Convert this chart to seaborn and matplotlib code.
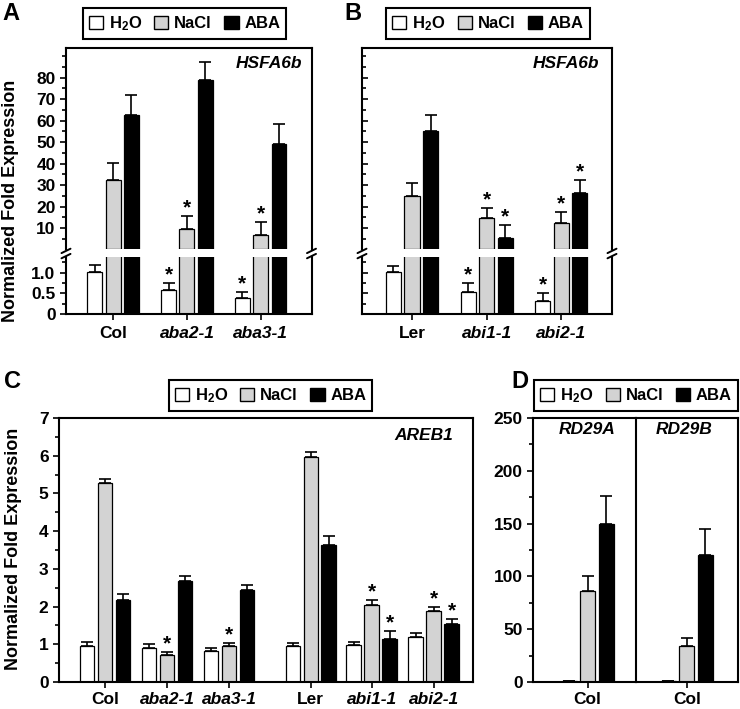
import numpy as np
import pandas as pd
import matplotlib
matplotlib.use("Agg")
import matplotlib.pyplot as plt
import seaborn as sns
from matplotlib.ticker import FixedLocator, FixedFormatter, MultipleLocator
from matplotlib.patches import Patch
from matplotlib.lines import Line2D

# ---------------- data ----------------
treatments = ["H2O", "NaCl", "ABA"]
legend_labels = ["H$_\\mathbf{2}$O", "NaCl", "ABA"]

# Panel A  (HSFA6b)
a_genotypes = ["Col", "aba2-1", "aba3-1"]
a_h2o = [1.02, 0.58, 0.38]
a_h2o_err = [0.17, 0.16, 0.16]
a_nacl = [32.4, 9.4, 6.7]
a_nacl_err = [7.7, 6.2, 6.2]
a_aba = [62.6, 78.9, 49.1]
a_aba_err = [9.3, 8.6, 9.3]
a_star_h2o = [False, True, True]
a_star_nacl = [False, True, True]
a_star_aba = [False, False, False]

# Panel B  (HSFA6b)
b_genotypes = ["Ler", "abi1-1", "abi2-1"]
b_h2o = [1.02, 0.54, 0.32]
b_h2o_err = [0.15, 0.20, 0.20]
b_nacl = [24.9, 14.8, 12.2]
b_nacl_err = [6.2, 4.4, 5.1]
b_aba = [55.1, 5.2, 26.1]
b_aba_err = [7.5, 6.2, 6.2]
b_star_h2o = [False, True, True]
b_star_nacl = [False, True, True]
b_star_aba = [False, True, True]

# Panel C  (AREB1)
c_genotypes = ["Col", "aba2-1", "aba3-1", "Ler", "abi1-1", "abi2-1"]
c_h2o = [0.95, 0.90, 0.81, 0.95, 0.97, 1.19]
c_h2o_err = [0.10, 0.10, 0.09, 0.08, 0.09, 0.11]
c_nacl = [5.28, 0.71, 0.95, 5.97, 2.03, 1.87]
c_nacl_err = [0.09, 0.08, 0.08, 0.12, 0.15, 0.12]
c_aba = [2.18, 2.69, 2.43, 3.64, 1.15, 1.54]
c_aba_err = [0.15, 0.13, 0.15, 0.22, 0.19, 0.13]
c_star_h2o = [False] * 6
c_star_nacl = [False, True, True, False, True, True]
c_star_aba = [False, False, False, False, True, True]

# Panel D  (RD29A / RD29B, Col)
d_genes = ["RD29A", "RD29B"]
d_h2o = [1.0, 1.0]
d_h2o_err = [0.3, 0.3]
d_nacl = [86.1, 34.2]
d_nacl_err = [14.2, 7.8]
d_aba = [149.4, 120.3]
d_aba_err = [26.9, 24.3]

# ---------------- style ----------------
sns.set_theme(style="ticks")
plt.rcParams["font.family"] = ["Liberation Sans", "DejaVu Sans"]
plt.rcParams["font.weight"] = "bold"
plt.rcParams["mathtext.fontset"] = "custom"
plt.rcParams["mathtext.rm"] = "Liberation Sans:bold"
plt.rcParams["mathtext.bf"] = "Liberation Sans:bold"
plt.rcParams["mathtext.it"] = "Liberation Sans:bold:italic"
for k in ["axes.edgecolor", "xtick.color", "ytick.color", "text.color", "axes.labelcolor"]:
    plt.rcParams[k] = "black"

palette = {"H2O": "white", "NaCl": "#d3d3d3", "ABA": "black"}
TICK_FS = 12.5
W, H = 740, 709
fig = plt.figure(figsize=(W / 100, H / 100), dpi=100)


def box(l, t, r, b):
    return [l / W, 1 - b / H, (r - l) / W, (b - t) / H]


def long_df(genotypes, h, he, n, ne, a, ae, sh, sn, sa):
    vals = {"H2O": (h, he, sh), "NaCl": (n, ne, sn), "ABA": (a, ae, sa)}
    rows = []
    for gi, g in enumerate(genotypes):
        for ti, t in enumerate(treatments):
            v, e, s = vals[t]
            rows.append(dict(genotype=g, treatment=t, value=v[gi], err=e[gi],
                             star=s[gi], gi=gi, ti=ti))
    return pd.DataFrame(rows)


def draw(ax, df, order, width, gap, positions=None, hide=(), annotate=None):
    d = df.copy()
    if positions is not None:
        d["x"] = [positions[i] for i in d["gi"]]
        sns.barplot(data=d, x="x", y="value", hue="treatment", hue_order=treatments,
                    palette=palette, edgecolor="black", linewidth=0.9, width=width,
                    gap=gap, errorbar=None, legend=False, ax=ax, native_scale=True,
                    saturation=1)
    else:
        sns.barplot(data=d, x="genotype", y="value", hue="treatment", order=order,
                    hue_order=treatments, palette=palette, edgecolor="black",
                    linewidth=0.9, width=width, gap=gap, errorbar=None, legend=False,
                    ax=ax, saturation=1)
    ax.patch.set_alpha(0)
    rects = sorted(ax.patches, key=lambda p: p.get_x())
    d = d.sort_values(["gi", "ti"])
    for p, (_, r) in zip(rects, d.iterrows()):
        if r.treatment in hide:
            p.set_visible(False)
            continue
        if annotate is not None and r.treatment not in annotate:
            continue
        cx = p.get_x() + p.get_width() / 2
        ax.errorbar(cx, r.value, yerr=[[0], [r.err]], fmt="none", ecolor="black",
                    elinewidth=1.2, capsize=4.2, capthick=1.2, zorder=5)
        if r.star:
            ax.annotate("*", (cx, r.value + r.err), xytext=(0, -1),
                        textcoords="offset points", ha="center", va="bottom",
                        fontsize=15, fontweight="bold", annotation_clip=False)


def style_ax(ax, left_dir="out"):
    for s in ax.spines.values():
        s.set_linewidth(1.5)
        s.set_color("black")
    ax.tick_params(axis="both", which="major", length=4.5, width=1.2,
                   labelsize=TICK_FS, pad=3, color="black")
    ax.tick_params(axis="both", which="minor", length=3, width=1.2, color="black")
    ax.tick_params(axis="y", which="both", direction=left_dir, right=False)
    ax.tick_params(axis="x", which="both", top=False)
    ax.set_xlabel("")
    ax.set_ylabel("")


def set_xlabels(ax, labels, pad, positions=None):
    ax.set_xticks(range(len(labels)) if positions is None else positions)
    ax.set_xticklabels(labels)
    for t, g in zip(ax.get_xticklabels(), labels):
        t.set_fontweight("bold")
        t.set_fontsize(TICK_FS)
        if g not in ("Col", "Ler"):
            t.set_fontstyle("italic")
    ax.tick_params(axis="x", which="major", pad=pad)
    ax.xaxis.set_minor_locator(FixedLocator([]))


# ---------------- panels A & B (broken y axis) ----------------
dfA = long_df(a_genotypes, a_h2o, a_h2o_err, a_nacl, a_nacl_err, a_aba, a_aba_err,
              a_star_h2o, a_star_nacl, a_star_aba)
dfB = long_df(b_genotypes, b_h2o, b_h2o_err, b_nacl, b_nacl_err, b_aba, b_aba_err,
              b_star_h2o, b_star_nacl, b_star_aba)

specs = [
    (dfA, a_genotypes, (66, 311.5), (-0.64, 2.69), "out", "HSFA6b", 0.961),
    (dfB, b_genotypes, (362, 612), (-0.67, 2.68), "in", "HSFA6b", 0.949),
]
for df, gens, (l, r), xl, ldir, gene, gx in specs:
    ax_up = fig.add_axes(box(l, 48, r, 249))
    ax_lo = fig.add_axes(box(l, 257, r, 314))
    draw(ax_up, df, gens, 0.745, 0.19, hide=("H2O",), annotate=("NaCl", "ABA"))
    draw(ax_lo, df, gens, 0.745, 0.19, annotate=("H2O",))
    for ax in (ax_up, ax_lo):
        style_ax(ax, ldir)
        ax.set_xlim(*xl)
    ax_up.set_ylim(0.22, 93.8)
    ax_lo.set_ylim(0, 1.38)
    ax_up.spines["bottom"].set_visible(False)
    ax_lo.spines["top"].set_visible(False)
    ax_up.tick_params(axis="x", which="both", bottom=False, labelbottom=False)
    ax_up.yaxis.set_major_locator(FixedLocator(list(range(10, 81, 10))))
    ax_up.yaxis.set_minor_locator(FixedLocator([5, 15, 25, 35, 45, 55, 65, 75, 85, 90]))
    ax_lo.yaxis.set_major_locator(FixedLocator([0, 0.5, 1.0]))
    ax_lo.yaxis.set_major_formatter(FixedFormatter(["0", "0.5", "1.0"]))
    ax_lo.yaxis.set_minor_locator(FixedLocator([0.25, 0.75, 1.25]))
    if ldir == "in":
        ax_up.tick_params(axis="y", labelleft=False)
        ax_lo.tick_params(axis="y", labelleft=False)
    set_xlabels(ax_lo, gens, 4.5)
    ax_up.text(gx, 0.925, gene, transform=ax_up.transAxes, ha="right", va="center",
               fontsize=12.5, fontweight="bold", fontstyle="italic")
    # break marks on both spines
    for xs in (l, r):
        for dy in (-2.6, 2.6):
            fig.add_artist(Line2D([(xs - 4.5) / W, (xs + 4.5) / W],
                                  [1 - (253.5 + dy + 2.2) / H, 1 - (253.5 + dy - 2.2) / H],
                                  color="black", lw=1.4))

# ---------------- panel C ----------------
dfC = long_df(c_genotypes, c_h2o, c_h2o_err, c_nacl, c_nacl_err, c_aba, c_aba_err,
              c_star_h2o, c_star_nacl, c_star_aba)
c_positions = [0, 1, 2, 3.32, 4.3, 5.3]
axC = fig.add_axes(box(59, 418, 473, 682))
draw(axC, dfC, c_genotypes, 0.885, 0.18, positions=c_positions)
style_ax(axC)
axC.set_xlim(-0.742, 5.935)
axC.set_ylim(0, 7)
axC.yaxis.set_major_locator(MultipleLocator(1))
axC.yaxis.set_minor_locator(MultipleLocator(0.5))
set_xlabels(axC, c_genotypes, 2.5, positions=c_positions)
axC.text(0.952, 0.932, "AREB1", transform=axC.transAxes, ha="right", va="center",
         fontsize=12.5, fontweight="bold", fontstyle="italic")

# ---------------- panel D ----------------
dfD = long_df(d_genes, d_h2o, d_h2o_err, d_nacl, d_nacl_err, d_aba, d_aba_err,
              [False] * 2, [False] * 2, [False] * 2)
d_boxes = [(533, 636, (-0.739, 0.653), 0.524), (636, 738, (-0.685, 0.693), 0.47)]
for i, (l, r, xl, tx) in enumerate(d_boxes):
    ax = fig.add_axes(box(l, 418, r, 682))
    sub = dfD[dfD.gi == i].copy()
    sub["gi"] = 0
    sub["genotype"] = "Col"
    draw(ax, sub, ["Col"], 0.75, 0.19)
    style_ax(ax)
    ax.set_xlim(*xl)
    ax.set_ylim(0, 250)
    ax.yaxis.set_major_locator(MultipleLocator(50))
    ax.yaxis.set_minor_locator(MultipleLocator(25))
    set_xlabels(ax, ["Col"], 2.5)
    if i == 1:
        ax.spines["left"].set_visible(False)
        ax.tick_params(axis="y", which="both", left=False, labelleft=False)
    ax.text(tx, 0.958, d_genes[i], transform=ax.transAxes, ha="center", va="center",
            fontsize=12.5, fontweight="bold", fontstyle="italic")

# ---------------- legends ----------------
handles = [Patch(facecolor=palette[t], edgecolor="black", linewidth=1.0) for t in treatments]
for cx, cy in [(184.5, 23.5), (488, 23.5), (270.5, 395.5), (636, 395.5)]:
    leg = fig.legend(handles, legend_labels, loc="center", bbox_to_anchor=(cx / W, 1 - cy / H),
                     ncol=3, frameon=True, fancybox=False, framealpha=1, edgecolor="black",
                     handlelength=0.85, handleheight=0.85, handletextpad=0.35,
                     columnspacing=0.75, borderpad=0.35, borderaxespad=0,
                     prop={"weight": "bold", "size": 12})
    leg.get_frame().set_linewidth(1.5)

# ---------------- panel letters & y labels ----------------
for lbl, x, y in [("A", 2, 13.5), ("B", 344, 13.5), ("C", 4, 381.5), ("D", 511, 381.5)]:
    fig.text(x / W, 1 - y / H, lbl, ha="left", va="center", fontsize=17, fontweight="bold")
for x, y in [(11, 201), (14, 549)]:
    fig.text(x / W, 1 - y / H, "Normalized Fold Expression", rotation=90, ha="center",
             va="center", fontsize=13, fontweight="bold")

fig.savefig("out.png", dpi=100)
